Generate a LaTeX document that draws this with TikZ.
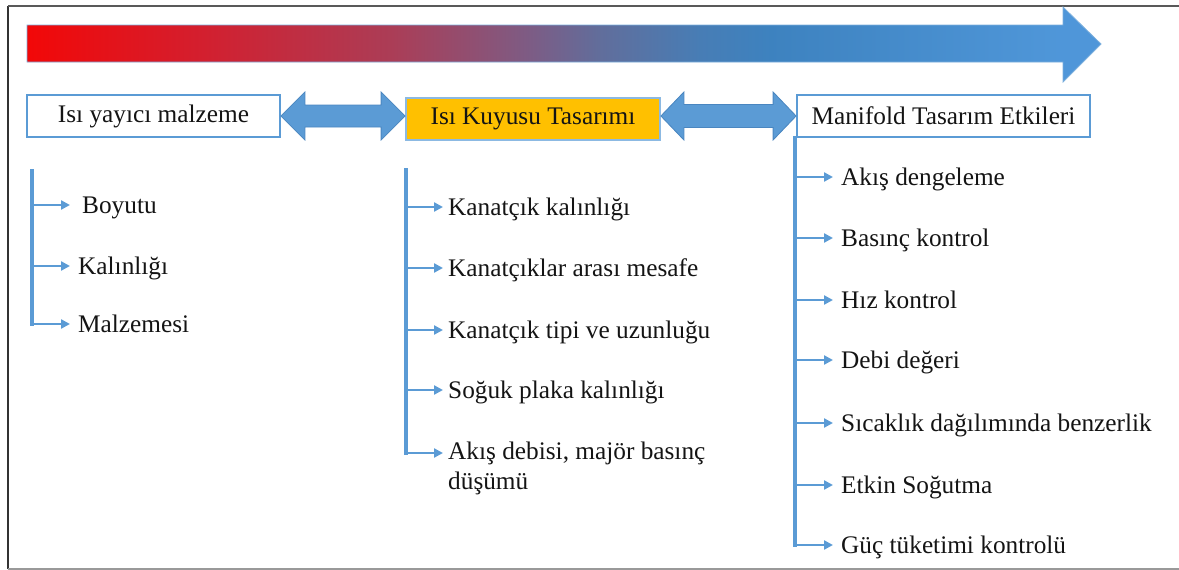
\documentclass[tikz,border=0pt]{standalone}
\usepackage{fontspec}
\setmainfont{Liberation Serif}
\newfontfamily\timesface{Liberation Serif}
\usetikzlibrary{arrows.meta,positioning,calc}
\definecolor{linkblue}{HTML}{5B9BD5}
\definecolor{edgeblue}{HTML}{4A86C0}
\definecolor{gold}{HTML}{FFC000}
% red-to-blue bar, the middle 25bp..75bp span covers the arrow
\pgfdeclarehorizontalshading{heatbar}{100bp}{%
  rgb(0bp)=(0.95,0.03,0.03); rgb(25bp)=(0.95,0.03,0.03);
  rgb(33bp)=(0.83,0.12,0.18); rgb(42bp)=(0.67,0.24,0.34);
  rgb(48.4bp)=(0.49,0.36,0.52); rgb(51.7bp)=(0.38,0.43,0.61);
  rgb(56.3bp)=(0.28,0.49,0.71); rgb(59.6bp)=(0.24,0.51,0.75);
  rgb(73bp)=(0.31,0.59,0.85); rgb(100bp)=(0.31,0.59,0.85)}
\begin{document}
\begin{tikzpicture}[x=1pt,y=-1pt,
  every node/.style={font=\timesface\fontsize{25.3}{30}\selectfont, text=black!92},
  titlebox/.style={draw=linkblue, line width=1.8pt, fill=white,
    minimum height=42pt, inner sep=0pt},
  spine/.style={draw=linkblue, line width=3.6pt, line cap=rect},
  twig/.style={draw=linkblue, line width=2.8pt, -{Triangle[length=9pt,width=9pt]}},
  item/.style={anchor=west, inner sep=0pt, text height=20pt, text depth=4pt},
  dblarrow/.style={fill=linkblue, draw=edgeblue, line width=0.8pt, line join=miter}]
\useasboundingbox (0,0) rectangle (1179,570);

% frame
\draw[line width=1.5pt, black!80] (8,569) -- (8,6);
\draw[line width=1.2pt, black!65] (8,6) -- (1179,6);
\draw[line width=2pt, black!40] (8,569) -- (1179,569);

% gradient direction arrow
\shadedraw[shading=heatbar, draw=linkblue!80, line width=0.8pt, line join=miter]
  (27,25) -- (1063,25) -- (1063,7) -- (1101,44) -- (1063,82) -- (1063,62) -- (27,62) -- cycle;

% headline boxes
\node[titlebox, minimum width=253pt] (b1) at (153.5,116) {Isı yayıcı malzeme};
\node[titlebox, fill=gold, draw=linkblue!70, minimum width=254pt] (b2) at (533,119) {Isı Kuyusu Tasarımı};
\node[titlebox, minimum width=293pt] (b3) at (943.5,116) {Manifold Tasarım Etkileri};

% two-way arrows between the boxes
\draw[dblarrow] (b1.east) -- ++(24,-24) -- ++(0,13)
  -- ($(b2.west|-b1.east)+(-24,-11)$) -- ++(0,-13) -- (b2.west|-b1.east)
  -- ++(-24,24) -- ++(0,-13) -- ($(b1.east)+(24,11)$) -- ++(0,13) -- cycle;
\draw[dblarrow] (b2.east|-b3.west) -- ++(23,-24) -- ++(0,12.5)
  -- ($(b3.west)+(-23,-11.5)$) -- ++(0,-12.5) -- (b3.west)
  -- ++(-23,24) -- ++(0,-12.5) -- ($(b2.east|-b3.west)+(23,11.5)$) -- ++(0,12.5) -- cycle;

% left branch
\coordinate (L0) at (32,171);
\coordinate (L1) at (70,205);
\coordinate (L2) at (70,266);
\coordinate (L3) at (70,324);
\draw[spine] (L0) -- (L0|-L3);
\foreach \t in {L1,L2,L3} \draw[twig] (L0|-\t) -- (\t);
\node[item, right=12pt of L1] (l1) {Boyutu};
\node[item, right=8pt of L2] (l2) {Kalınlığı};
\node[item, right=8pt of L3] (l3) {Malzemesi};

% middle branch
\coordinate (M0) at (406,170);
\coordinate (M1) at (443,207);
\coordinate (M2) at (443,268);
\coordinate (M3) at (443,330);
\coordinate (M4) at (443,390);
\coordinate (M5) at (443,453);
\draw[spine] (M0) -- (M0|-M5);
\foreach \t in {M1,M2,M3,M4,M5} \draw[twig] (M0|-\t) -- (\t);
\node[item, right=5pt of M1] (m1) {Kanatçık kalınlığı};
\node[item, right=5pt of M2] (m2) {Kanatçıklar arası mesafe};
\node[item, right=5pt of M3] (m3) {Kanatçık tipi ve uzunluğu};
\node[item, right=5pt of M4] (m4) {Soğuk plaka kalınlığı};
\node[anchor=north west, align=left, inner sep=0pt] (m5) at ($(M5)+(5,-11)$)
  {Akış debisi, majör basınç\\düşümü};

% right branch
\coordinate (R0) at ([xshift=-1pt]b3.south west);
\coordinate (R1) at (833,177);
\coordinate (R2) at (833,238);
\coordinate (R3) at (833,300);
\coordinate (R4) at (833,360);
\coordinate (R5) at (833,423);
\coordinate (R6) at (833,485);
\coordinate (R7) at (833,545);
\draw[spine] (R0) -- (R0|-R7);
\foreach \t in {R1,R2,R3,R4,R5,R6,R7} \draw[twig] (R0|-\t) -- (\t);
\node[item, right=8pt of R1] (r1) {Akış dengeleme};
\node[item, right=8pt of R2] (r2) {Basınç kontrol};
\node[item, right=8pt of R3] (r3) {Hız kontrol};
\node[item, right=8pt of R4] (r4) {Debi değeri};
\node[item, right=8pt of R5] (r5) {Sıcaklık dağılımında benzerlik};
\node[item, right=8pt of R6] (r6) {Etkin Soğutma};
\node[item, right=8pt of R7] (r7) {Güç tüketimi kontrolü};
\end{tikzpicture}
\end{document}
